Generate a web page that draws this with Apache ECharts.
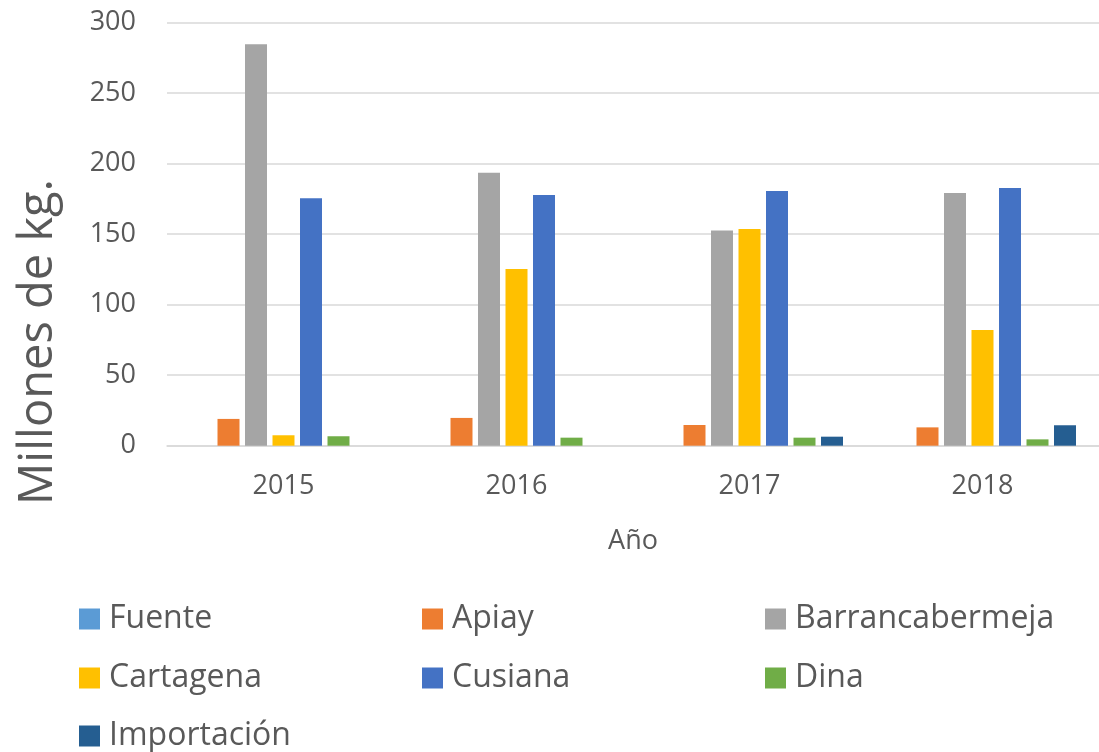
<!DOCTYPE html>
<html>
<head>
<meta charset="utf-8">
<script src="https://cdn.jsdelivr.net/npm/echarts@6/dist/echarts.min.js"></script>
<style>
  html, body { margin: 0; padding: 0; background: #fff; }
  #chart { width: 1099px; height: 752px; }
</style>
</head>
<body>
<div id="chart"></div>
<script>
// datos (millones de kg)
const years = ['2015', '2016', '2017', '2018'];
const fuente = [null, null, null, null];
const apiay = [19, 19.7, 14.7, 13];
const barrancabermeja = [284.7, 193.5, 152.7, 179.3];
const cartagena = [7.4, 125.3, 153.7, 82];
const cusiana = [175.5, 177.8, 180.7, 182.8];
const dina = [6.7, 5.7, 5.7, 4.5];
const importacion = [null, null, 6.4, 14.5];

const yTicks = [0, 50, 100, 150, 200, 250, 300];

const font = 'Open Sans';
const textColor = '#595959';

const chart = echarts.init(document.getElementById('chart'));

const mkSeries = (name, data, color) => ({
    name,
    type: 'bar',
    data,
    barWidth: 22,
    barGap: '25%',
    itemStyle: { color },
    emphasis: { disabled: true }
});

// una leyenda por columna (y una aparte para la tercera fila)
const legendBase = {
    orient: 'vertical',
    top: 603,
    padding: 0,
    itemWidth: 21,
    itemHeight: 21,
    itemGap: 27,
    icon: 'rect',
    selectedMode: false,
    textStyle: {
        fontFamily: font,
        fontSize: 32,
        color: textColor,
        padding: [0, 0, 0, 4]
    }
};

const option = {
    animation: false,
    grid: {
        left: 167,
        right: -5,
        top: 22.7,
        bottom: 752 - 445.7,
        containLabel: false
    },
    xAxis: {
        type: 'category',
        data: years,
        name: 'Año',
        nameLocation: 'middle',
        nameGap: 82,
        nameTextStyle: { fontFamily: font, fontSize: 27, color: textColor },
        axisLine: { lineStyle: { color: '#d9d9d9', width: 1.5 } },
        axisTick: { show: false },
        axisLabel: { margin: 27, fontFamily: font, fontSize: 27, color: textColor }
    },
    yAxis: {
        type: 'value',
        min: yTicks[0],
        max: yTicks[yTicks.length - 1],
        interval: 50,
        axisLine: { show: false },
        axisTick: { show: false },
        axisLabel: { margin: 31, fontFamily: font, fontSize: 27, color: textColor },
        splitLine: { lineStyle: { color: '#d9d9d9', width: 1.5 } }
    },
    legend: [
        Object.assign({}, legendBase, { left: 79, data: ['Fuente', 'Cartagena'] }),
        Object.assign({}, legendBase, { left: 422, data: ['Apiay', 'Cusiana'] }),
        Object.assign({}, legendBase, { left: 765, data: ['Barrancabermeja', 'Dina'] }),
        Object.assign({}, legendBase, { left: 79, top: 720, data: ['Importación'] })
    ],
    graphic: [{
        type: 'text',
        x: 39,
        y: 342,
        rotation: Math.PI / 2,
        style: {
            text: 'Millones de kg.',
            fontFamily: font,
            fontSize: 47,
            fill: textColor,
            align: 'center',
            verticalAlign: 'middle'
        }
    }],
    series: [
        mkSeries('Fuente', fuente, '#5B9BD5'),
        mkSeries('Apiay', apiay, '#ED7D31'),
        mkSeries('Barrancabermeja', barrancabermeja, '#A5A5A5'),
        mkSeries('Cartagena', cartagena, '#FFC000'),
        mkSeries('Cusiana', cusiana, '#4472C4'),
        mkSeries('Dina', dina, '#70AD47'),
        mkSeries('Importación', importacion, '#255E91')
    ]
};

chart.setOption(option);
</script>
</body>
</html>
